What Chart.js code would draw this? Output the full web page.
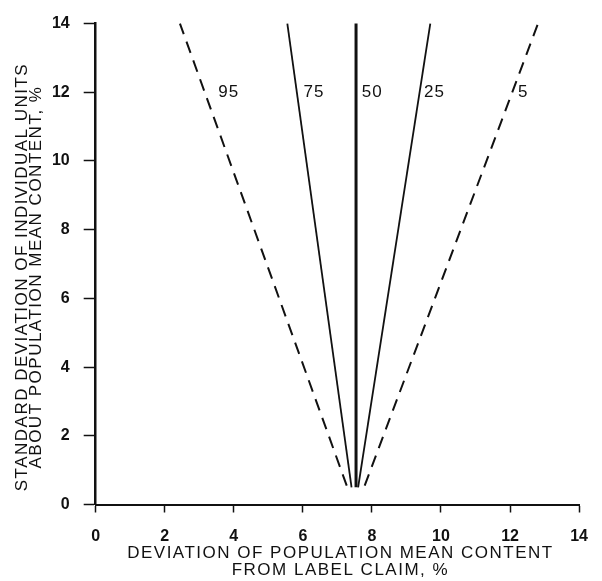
<!DOCTYPE html>
<html>
<head>
<meta charset="utf-8">
<script src="https://cdn.jsdelivr.net/npm/chart.js@4/dist/chart.umd.min.js"></script>
<style>
  html, body { margin: 0; padding: 0; background: #fff; }
  canvas { display: block; }
</style>
</head>
<body>
<canvas id="chart" width="602" height="581"></canvas>
<script>
// Percentile lines: each runs from the apex near the bottom up to the top of the plot.
const percentiles = ['95', '75', '50', '25', '5'];
const deviationAtBase = [7.27, 7.41, 7.54, 7.60, 7.79];
const sdAtBase = [0.55, 0.5, 0.5, 0.5, 0.55];
const deviationAtTop = [2.44, 5.55, 7.54, 9.69, 12.81];
const sdAtTop = [14, 14, 14, 14, 14];

// Where each percentile number is written (data units).
const labelDeviation = [3.85, 6.32, 8.01, 9.81, 12.38];
const labelSd = [12, 12, 12, 12, 12];

// Axis ranges and tick spacing.
const xRange = [0, 14];
const yRange = [0, 14];
const tickStep = 2;

const xTitleLines = ['DEVIATION OF POPULATION MEAN CONTENT', 'FROM LABEL CLAIM, %'];
const yTitleLines = ['STANDARD DEVIATION OF INDIVIDUAL UNITS', 'ABOUT POPULATION MEAN CONTENT, %'];

const INK = '#111';
const FAMILY = '"Liberation Sans", Arial, Helvetica, sans-serif';
const lineStyles = {
  '95': { width: 2, dash: [12, 8] },
  '75': { width: 1.8, dash: [] },
  '50': { width: 3, dash: [] },
  '25': { width: 1.8, dash: [] },
  '5':  { width: 2, dash: [12, 8] }
};

const datasets = percentiles.map((p, i) => ({
  label: p,
  data: [
    { x: deviationAtBase[i], y: sdAtBase[i] },
    { x: deviationAtTop[i], y: sdAtTop[i] }
  ],
  borderColor: INK,
  borderWidth: lineStyles[p].width,
  borderDash: lineStyles[p].dash,
  borderCapStyle: 'butt',
  pointRadius: 0,
  fill: false,
  tension: 0,
  clip: false
}));

// Percentile numbers beside the lines, plus the two-line axis titles.
const annotations = {
  id: 'annotations',
  afterDraw(chart) {
    const { ctx, chartArea, scales } = chart;
    ctx.save();
    ctx.fillStyle = INK;
    ctx.letterSpacing = '1px';
    ctx.font = '17px ' + FAMILY;
    ctx.textAlign = 'center';
    ctx.textBaseline = 'middle';
    percentiles.forEach((p, i) => {
      ctx.fillText(p, scales.x.getPixelForValue(labelDeviation[i]), scales.y.getPixelForValue(labelSd[i]));
    });

    ctx.letterSpacing = '1.5px';
    ctx.font = '17px ' + FAMILY;
    const cx = (chartArea.left + chartArea.right) / 2 + 3;
    xTitleLines.forEach((t, k) => {
      ctx.fillText(t, cx, chartArea.bottom + 48.5 + k * 17);
    });

    const cy = (chartArea.top + chartArea.bottom) / 2 + 13;
    ctx.translate(scales.y.left, cy);
    ctx.rotate(-Math.PI / 2);
    yTitleLines.forEach((t, k) => {
      ctx.fillText(t, 0, 22 + k * 14);
    });
    ctx.restore();
  }
};

const tickFont = { family: FAMILY, size: 16, weight: 'bold' };

new Chart(document.getElementById('chart'), {
  type: 'line',
  data: { datasets },
  options: {
    responsive: false,
    animation: false,
    events: [],
    layout: { padding: { top: 18, right: 13.5, bottom: 0, left: 0 } },
    plugins: { legend: { display: false }, tooltip: { enabled: false } },
    scales: {
      x: {
        type: 'linear',
        min: xRange[0],
        max: xRange[1],
        ticks: { stepSize: tickStep, padding: 14, color: INK, font: tickFont },
        grid: { drawOnChartArea: false, tickLength: 8, tickWidth: 1.5, color: INK },
        border: { color: INK, width: 2 },
        afterFit(scale) { scale.height = 76.5; }
      },
      y: {
        type: 'linear',
        min: yRange[0],
        max: yRange[1],
        ticks: { stepSize: tickStep, padding: 14, color: INK, font: tickFont },
        grid: { drawOnChartArea: false, tickLength: 12, tickWidth: 1.5, color: INK },
        border: { color: INK, width: 2.5 },
        afterFit(scale) { scale.width = 95.7; }
      }
    }
  },
  plugins: [annotations]
});
</script>
</body>
</html>
